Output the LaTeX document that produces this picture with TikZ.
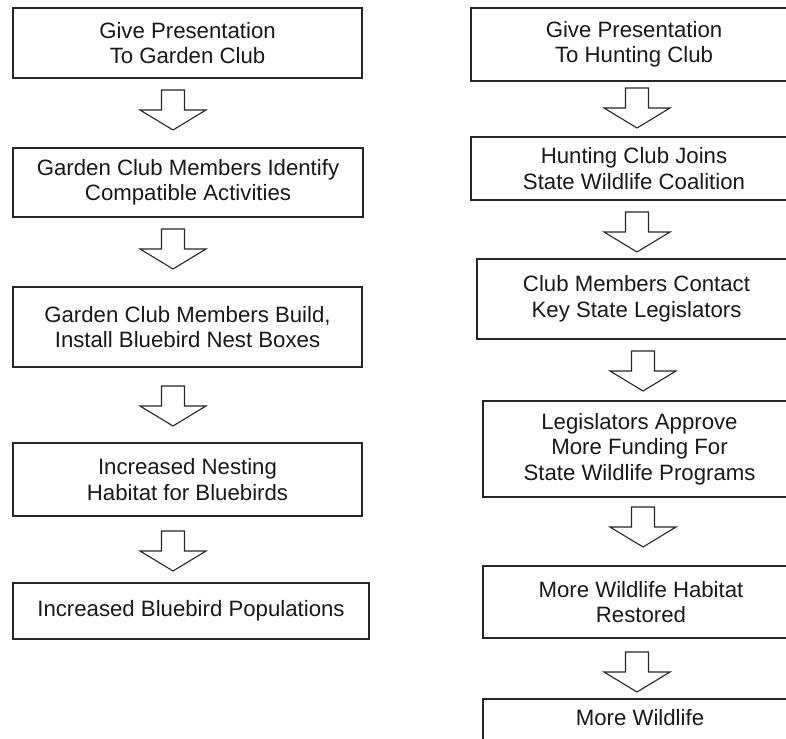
\documentclass[tikz,border=0pt]{standalone}
\usepackage{fontspec}
\setmainfont{Liberation Sans}
\begin{document}
\begin{tikzpicture}[x=1pt,y=-1pt,
  box/.style={draw=black!85,line width=1.1pt,fill=white,inner sep=0pt,
    align=center,text=black!90,font=\fontsize{22.2}{25.5}\selectfont},
  txt/.style={inner sep=0pt,align=center,text=black!90,font=\fontsize{22.2}{25.5}\selectfont},
  arrowline/.style={draw=black!85,line width=1.1pt,fill=white,line join=miter},
  downarrow/.pic={\path[arrowline] (-11.5,0) -- (-11.5,20) -- (-33,20) -- (0,40)
     -- (33,20) -- (11.5,20) -- (11.5,0) -- cycle;}]
\useasboundingbox (0,0) rectangle (786,738);
\clip (0,0) rectangle (786,738);

% garden club chain
\node[box,minimum width=349pt,minimum height=70pt] (g1) at (187.5,43)
  {Give Presentation\\To Garden Club};
\node[box,minimum width=350pt,minimum height=69pt] (g2) at (188,182.5)
  {Garden Club Members Identify\\Compatible Activities};
\node[box,minimum width=349pt,minimum height=80pt] (g3) at (187.5,327)
  {Garden Club Members Build,\\Install Bluebird Nest Boxes};
\node[box,minimum width=349pt,minimum height=73pt] (g4) at (187.5,479.5)
  {Increased Nesting\\Habitat for Bluebirds};
\node[box,minimum width=356pt,minimum height=56pt] (g5) at (191,611)
  {Increased Bluebird Populations};

\pic at (173,90)  {downarrow};
\pic at (173,229) {downarrow};
\pic at (173,386) {downarrow};
\pic at (173,531) {downarrow};

% hunting club chain
\node[box,minimum width=326pt,minimum height=73pt] (h1) at (634,44.5)
  {Give Presentation\\To Hunting Club};
\node[box,minimum width=326pt,minimum height=63pt] (h2) at (634,168.5)
  {Hunting Club Joins\\State Wildlife Coalition};
\node[box,minimum width=319pt,minimum height=80pt] (h3) at (636.5,299)
  {Club Members Contact\\Key State Legislators};
\node[box,minimum width=313pt,minimum height=96pt] (h4) at (639.5,449)
  {Legislators Approve\\More Funding For\\State Wildlife Programs};
\node[box,minimum width=316pt,minimum height=72pt] (h5) at (641,602)
  {More Wildlife Habitat\\Restored};
\node[box,minimum width=316pt,minimum height=70pt] (h6) at (641,734) {};
\node[txt] (h6t) at (640,718) {More Wildlife};

\pic at (637,88)  {downarrow};
\pic at (637,212) {downarrow};
\pic at (643,351) {downarrow};
\pic at (643,507) {downarrow};
\pic at (637,652) {downarrow};
\end{tikzpicture}
\end{document}
